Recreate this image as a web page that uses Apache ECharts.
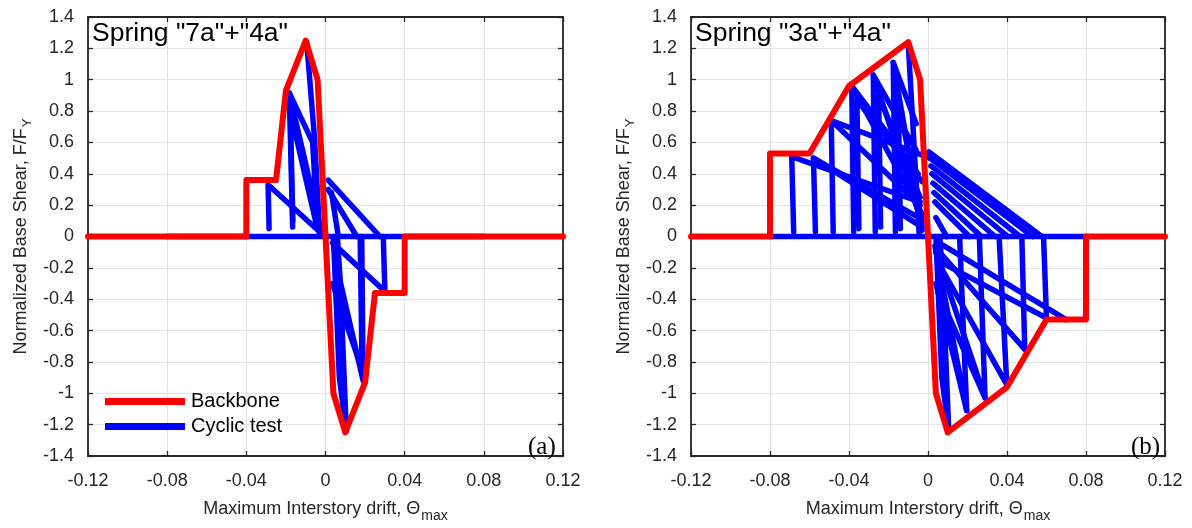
<!DOCTYPE html>
<html>
<head>
<meta charset="utf-8">
<script src="https://cdn.jsdelivr.net/npm/echarts@6/dist/echarts.min.js"></script>
<style>
html,body{margin:0;padding:0;background:#fff;}
#chart{width:1192px;height:528px;}
</style>
</head>
<body>
<div id="chart"></div>
<script>
// ---- data ----
const panelTitles = ['Spring "7a"+"4a"', 'Spring "3a"+"4a"'];
const panelTags = ['(a)', '(b)'];
const seriesNames = ['Backbone', 'Cyclic test'];
const xAxisName = 'Maximum Interstory drift, \u0398';
const xAxisSub = 'max';
const yAxisName = 'Normalized Base Shear, F/F';
const yAxisSub = 'Y';

const backboneA = [[-0.12,0],[-0.04,0],[-0.04,0.36],[-0.025,0.36],[-0.02,0.93],[-0.01,1.25],[-0.004,1.0],[0,0],[0.004,-1.0],[0.01,-1.25],[0.02,-0.93],[0.025,-0.36],[0.04,-0.36],[0.04,0],[0.12,0]];
const backboneB = [[-0.12,0],[-0.08,0],[-0.08,0.53],[-0.06,0.53],[-0.04,0.96],[-0.01,1.24],[-0.004,1.0],[0,0],[0.004,-1.0],[0.01,-1.25],[0.04,-0.96],[0.06,-0.53],[0.08,-0.53],[0.08,0],[0.12,0]];

// cyclic test traces, panel (a): list of polylines
const cyclicA = [
  [[-0.08,0],[0.08,0]],
  [[-0.0095,1.24],[-0.0055,0.62],[-0.003,0.02]],
  [[-0.002,0.03],[-0.0183,0.915],[-0.0166,0.06]],
  [[-0.0045,0.07],[-0.0178,0.80],[-0.0165,0.10]],
  [[-0.0183,0.915],[-0.0065,0.60],[-0.004,0.05]],
  [[-0.003,0.03],[-0.029,0.33],[-0.0285,0.05]],
  [[0.004,0],[0.007,-0.9],[0.0105,-1.24]],
  [[0.0105,-1.24],[0.0075,-0.3],[0.006,0]],
  [[0.004,-0.05],[0.0073,-0.28],[0.019,-0.92],[0.0183,0]],
  [[0.0035,-0.3],[0.0185,-0.85],[0.0175,0]],
  [[0.0035,-0.04],[0.030,-0.35],[0.0292,0]],
  [[0.0275,0],[0.0014,0.36]],
  [[0.0158,0],[0.0014,0.30]],
  [[0.0065,0],[0.003,0.28]]
];

// cyclic test traces, panel (b)
const cyclicB = [
  [[-0.08,0],[0.08,0]],
  [[-0.0100,1.23],[-0.0045,0.02]],
  [[-0.003,0.04],[-0.0176,1.11],[-0.0165,0.03]],
  [[-0.004,0.15],[-0.015,0.87],[-0.014,0.05]],
  [[-0.003,0.08],[-0.0277,1.03],[-0.0267,0.03]],
  [[-0.004,0.25],[-0.025,0.90],[-0.024,0.06]],
  [[-0.002,0.12],[-0.0386,0.96],[-0.0376,0.03]],
  [[-0.003,0.35],[-0.036,0.87],[-0.035,0.05]],
  [[0.001,0.50],[-0.049,0.74],[-0.048,0.03]],
  [[-0.006,0.13],[-0.058,0.50],[-0.057,0.03]],
  [[-0.004,0.22],[-0.069,0.51],[-0.068,0.03]],
  [[-0.058,0.50],[-0.003,0.06]],
  [[-0.049,0.74],[-0.004,0.20]],
  [[-0.0386,0.96],[-0.005,0.40]],
  [[-0.0277,1.03],[-0.006,0.55]],
  [[-0.0176,1.11],[-0.006,0.72]],
  [[0.0005,0.54],[0.0576,0]],
  [[0.001,0.50],[0.053,0]],
  [[0.0015,0.45],[0.0466,0]],
  [[0.002,0.40],[0.0405,0]],
  [[0.0025,0.34],[0.034,0]],
  [[0.003,0.28],[0.027,0]],
  [[0.0035,0.22],[0.021,0]],
  [[0.004,0.12],[0.0095,0]],
  [[0.004,0],[0.007,-0.9],[0.0105,-1.24]],
  [[0.0105,-1.24],[0.0075,-0.3],[0.006,0]],
  [[0.0035,-0.06],[0.0196,-1.11],[0.016,0]],
  [[0.004,-0.3],[0.0196,-1.11]],
  [[0.004,-0.1],[0.0289,-1.03],[0.026,0]],
  [[0.005,-0.35],[0.0289,-1.03]],
  [[0.0045,-0.15],[0.0399,-0.945],[0.036,0]],
  [[0.0045,-0.08],[0.049,-0.72],[0.0475,0]],
  [[0.006,-0.16],[0.060,-0.52],[0.0585,0]],
  [[0.005,-0.036],[0.070,-0.53]]
];

// ---- chart ----
const FONT = '"Liberation Sans", Arial, Helvetica, sans-serif';
const AX = '#262626';
const RED = '#ff0000';
const BLUE = '#0000ff';
const grids = [
  {left: 88, top: 17, width: 475, height: 447},
  {left: 691, top: 17, width: 474, height: 447}
];

function xAx(gi, top) {
  return {
    type: 'value', gridIndex: gi, min: -0.12, max: 0.12, interval: 0.04,
    position: top ? 'top' : 'bottom',
    axisLine: {show: true, onZero: false, lineStyle: {color: AX, width: 1.8}},
    axisTick: {show: true, inside: true, length: 5, lineStyle: {color: AX, width: 1.3}},
    axisLabel: {show: !top, margin: 16, color: AX, fontSize: 18, fontFamily: FONT,
      formatter: v => String(Math.round(v * 100) / 100)},
    splitLine: {show: !top, lineStyle: {color: '#e3e3e3', width: 1}},
    name: top ? '' : '{t|' + xAxisName + '}{s|' + xAxisSub + '}',
    nameLocation: 'middle', nameGap: 39,
    nameTextStyle: {color: AX, fontFamily: FONT, fontSize: 18,
      rich: {t: {fontSize: 18, color: AX, fontFamily: FONT},
             s: {fontSize: 14, color: AX, fontFamily: FONT, padding: [14, 0, 0, 1]}}}
  };
}
function yAx(gi, right) {
  return {
    type: 'value', gridIndex: gi, min: -1.4, max: 1.4, interval: 0.2,
    position: right ? 'right' : 'left',
    axisLine: {show: true, onZero: false, lineStyle: {color: AX, width: 1.8}},
    axisTick: {show: true, inside: true, length: 5, lineStyle: {color: AX, width: 1.3}},
    axisLabel: {show: !right, margin: 14, color: AX, fontSize: 18, fontFamily: FONT,
      formatter: v => String(Math.round(v * 10) / 10)},
    splitLine: {show: !right, lineStyle: {color: '#e3e3e3', width: 1}},
    name: right ? '' : '{t|' + yAxisName + '}{s|' + yAxisSub + '}',
    nameLocation: 'middle', nameGap: 54,
    nameTextStyle: {color: AX, fontFamily: FONT, fontSize: 18,
      rich: {t: {fontSize: 18, color: AX, fontFamily: FONT},
             s: {fontSize: 13, color: AX, fontFamily: FONT, padding: [12, 0, 0, 1]}}}
  };
}

const series = [];
function addPanel(cyc, bb, ax) {
  cyc.forEach(pl => series.push({
    type: 'line', name: seriesNames[1], xAxisIndex: ax, yAxisIndex: ax,
    data: pl, showSymbol: false, symbol: 'none', silent: true, z: 2,
    itemStyle: {color: BLUE},
    lineStyle: {color: BLUE, width: 5.5, cap: 'round', join: 'round'}
  }));
  series.push({
    type: 'line', name: seriesNames[0], xAxisIndex: ax, yAxisIndex: ax,
    data: bb, showSymbol: false, symbol: 'none', silent: true, z: 3,
    itemStyle: {color: RED},
    lineStyle: {color: RED, width: 6, cap: 'round', join: 'round'}
  });
}
addPanel(cyclicA, backboneA, 0);
addPanel(cyclicB, backboneB, 2);

const chart = echarts.init(document.getElementById('chart'), null, {renderer: 'canvas'});
chart.setOption({
  animation: false,
  backgroundColor: '#ffffff',
  grid: grids,
  xAxis: [xAx(0, false), xAx(0, true), xAx(1, false), xAx(1, true)],
  yAxis: [yAx(0, false), yAx(0, true), yAx(1, false), yAx(1, true)],
  title: [
    {text: panelTitles[0], left: 92, top: 20, padding: 0,
     textStyle: {fontSize: 26.5, fontWeight: 'normal', color: '#000', fontFamily: FONT}},
    {text: panelTitles[1], left: 695, top: 20, padding: 0,
     textStyle: {fontSize: 26.5, fontWeight: 'normal', color: '#000', fontFamily: FONT}},
    {text: panelTags[0], left: 528, top: 435, padding: 0,
     textStyle: {fontSize: 25, fontWeight: 'normal', color: '#000', fontFamily: '"Liberation Serif", "Times New Roman", serif'}},
    {text: panelTags[1], left: 1131, top: 435, padding: 0,
     textStyle: {fontSize: 25, fontWeight: 'normal', color: '#000', fontFamily: '"Liberation Serif", "Times New Roman", serif'}}
  ],
  legend: {
    data: seriesNames, orient: 'vertical', left: 105, top: 391, padding: 0,
    itemWidth: 80, itemHeight: 7, itemGap: 4, icon: 'rect',
    textStyle: {fontSize: 20, color: '#000', fontFamily: FONT, lineHeight: 21, padding: [0,0,0,1]},
    selectedMode: false
  },
  series: series
});
</script>
</body>
</html>
